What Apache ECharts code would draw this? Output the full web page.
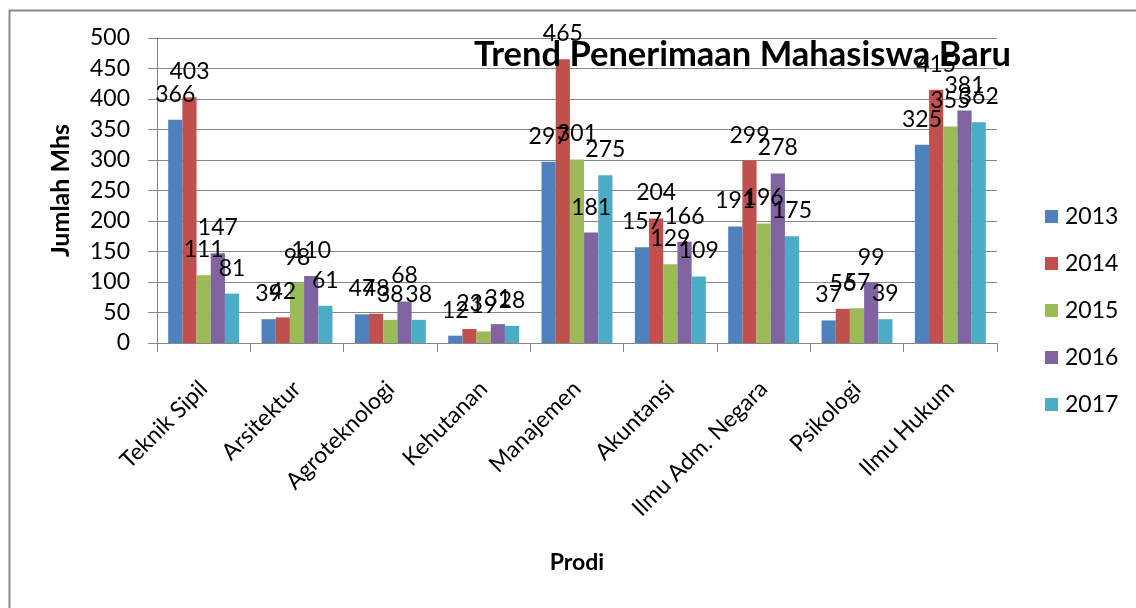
<!DOCTYPE html>
<html>
<head>
<meta charset="utf-8">
<script src="https://cdn.jsdelivr.net/npm/echarts@6/dist/echarts.min.js"></script>
<style>html,body{margin:0;padding:0;background:#fff;}#c{width:1136px;height:608px;}</style>
</head>
<body>
<div id="c"></div>
<script>
const categories = ['Teknik Sipil','Arsitektur','Agroteknologi','Kehutanan','Manajemen','Akuntansi','Ilmu Adm. Negara','Psikologi','Ilmu Hukum'];
const years = ['2013','2014','2015','2016','2017'];
const v2013 = [366, 39, 47, 12, 297, 157, 191, 37, 325];
const v2014 = [403, 42, 48, 23, 465, 204, 299, 56, 415];
const v2015 = [111, 98, 38, 19, 301, 129, 196, 57, 355];
const v2016 = [147, 110, 68, 31, 181, 166, 278, 99, 381];
const v2017 = [81, 61, 38, 28, 275, 109, 175, 39, 362];
const seriesValues = [v2013, v2014, v2015, v2016, v2017];
const colors = ['#4F81BD','#C0504D','#9BBB59','#8064A2','#4BACC6'];
const FONT = 'Lato';

const chart = echarts.init(document.getElementById('c'), null, {renderer:'canvas'});
chart.setOption({
  animation: false,
  color: colors,
  textStyle: {fontFamily: FONT},
  title: {
    text: 'Trend Penerimaan Mahasiswa Baru',
    left: 469, top: 32,
    textStyle: {fontFamily: FONT, fontSize: 34.5, fontWeight: 'bold', color: '#000'}
  },
  graphic: [{
    type: 'rect', left: 7, top: 8, silent: true,
    shape: {width: 1160, height: 700},
    style: {fill: 'none', stroke: '#8a8a8a', lineWidth: 2}
  }],
  legend: {
    orient: 'vertical', left: 1040, top: 200,
    icon: 'rect', itemWidth: 13, itemHeight: 13, itemGap: 24,
    textStyle: {fontFamily: FONT, fontSize: 23, color: '#000', padding: [0,0,0,2]},
    data: years
  },
  grid: {left: 157, right: 139, top: 38, bottom: 265, containLabel: false},
  xAxis: {
    type: 'category', data: categories,
    name: 'Prodi', nameLocation: 'middle', nameGap: 208,
    nameTextStyle: {fontFamily: FONT, fontSize: 23, fontWeight: 'bold', color: '#000'},
    axisLine: {lineStyle: {color: '#878787', width: 1}},
    axisTick: {show: true, length: 9, lineStyle: {color: '#878787'}},
    axisLabel: {rotate: 45, fontSize: 23, color: '#000', margin: 42, interval: 0, fontFamily: FONT},
    splitLine: {show: false}
  },
  yAxis: {
    type: 'value', min: 0, max: 500, interval: 50,
    name: 'Jumlah Mhs', nameLocation: 'middle', nameGap: 84, nameRotate: 90,
    nameTextStyle: {fontFamily: FONT, fontSize: 25, fontWeight: 'bold', color: '#000'},
    axisLine: {show: true, lineStyle: {color: '#878787', width: 1}},
    axisTick: {show: true, length: 9, lineStyle: {color: '#878787'}},
    axisLabel: {fontSize: 23, color: '#000', margin: 27, fontFamily: FONT},
    splitLine: {show: true, lineStyle: {color: '#878787', width: 1}}
  },
  series: years.map((y, i) => ({
    name: y, type: 'bar', data: seriesValues[i],
    barGap: '0%', barCategoryGap: '24%',
    itemStyle: {color: colors[i]},
    label: {show: true, position: 'top', distance: 14, fontSize: 23, color: '#000', fontFamily: FONT}
  }))
});
</script>
</body>
</html>
